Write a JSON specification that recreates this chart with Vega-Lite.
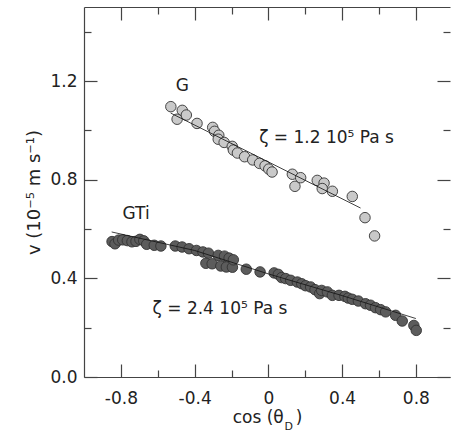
{
  "$schema": "https://vega.github.io/schema/vega-lite/v6.json",
  "width": 366,
  "height": 370,
  "autosize": "none",
  "padding": {"left": 84, "top": 7, "right": 1, "bottom": 55},
  "background": "white",
  "config": {"view": {"stroke": null}, "font": "DejaVu Sans"},
  "datasets": {
    "points": [
      {"series": "G", "x": -0.529, "y": 1.096},
      {"series": "G", "x": -0.495, "y": 1.045},
      {"series": "G", "x": -0.467, "y": 1.081},
      {"series": "G", "x": -0.445, "y": 1.062},
      {"series": "G", "x": -0.387, "y": 1.028},
      {"series": "G", "x": -0.302, "y": 1.012},
      {"series": "G", "x": -0.292, "y": 0.996},
      {"series": "G", "x": -0.269, "y": 0.98},
      {"series": "G", "x": -0.272, "y": 0.964},
      {"series": "G", "x": -0.24, "y": 0.951},
      {"series": "G", "x": -0.196, "y": 0.935},
      {"series": "G", "x": -0.19, "y": 0.92},
      {"series": "G", "x": -0.168, "y": 0.908},
      {"series": "G", "x": -0.129, "y": 0.893},
      {"series": "G", "x": -0.085, "y": 0.88},
      {"series": "G", "x": -0.048, "y": 0.866},
      {"series": "G", "x": -0.018, "y": 0.856},
      {"series": "G", "x": 0.002, "y": 0.843},
      {"series": "G", "x": 0.02, "y": 0.831},
      {"series": "G", "x": 0.13, "y": 0.822},
      {"series": "G", "x": 0.144, "y": 0.773},
      {"series": "G", "x": 0.175, "y": 0.808},
      {"series": "G", "x": 0.265, "y": 0.797},
      {"series": "G", "x": 0.302, "y": 0.786},
      {"series": "G", "x": 0.292, "y": 0.764},
      {"series": "G", "x": 0.347, "y": 0.753},
      {"series": "G", "x": 0.455, "y": 0.732},
      {"series": "G", "x": 0.524, "y": 0.646},
      {"series": "G", "x": 0.576, "y": 0.572},
      {"series": "GTi", "x": -0.848, "y": 0.549},
      {"series": "GTi", "x": -0.832, "y": 0.54},
      {"series": "GTi", "x": -0.812, "y": 0.555},
      {"series": "GTi", "x": -0.79, "y": 0.556},
      {"series": "GTi", "x": -0.765, "y": 0.553},
      {"series": "GTi", "x": -0.74, "y": 0.548},
      {"series": "GTi", "x": -0.718, "y": 0.55},
      {"series": "GTi", "x": -0.697, "y": 0.558},
      {"series": "GTi", "x": -0.676, "y": 0.552},
      {"series": "GTi", "x": -0.66, "y": 0.538},
      {"series": "GTi", "x": -0.619, "y": 0.534},
      {"series": "GTi", "x": -0.583, "y": 0.531},
      {"series": "GTi", "x": -0.505, "y": 0.531},
      {"series": "GTi", "x": -0.468, "y": 0.527},
      {"series": "GTi", "x": -0.43, "y": 0.52},
      {"series": "GTi", "x": -0.39, "y": 0.513},
      {"series": "GTi", "x": -0.355, "y": 0.507},
      {"series": "GTi", "x": -0.325, "y": 0.502},
      {"series": "GTi", "x": -0.339, "y": 0.461},
      {"series": "GTi", "x": -0.305, "y": 0.459},
      {"series": "GTi", "x": -0.272, "y": 0.493},
      {"series": "GTi", "x": -0.258, "y": 0.45},
      {"series": "GTi", "x": -0.238, "y": 0.49},
      {"series": "GTi", "x": -0.213, "y": 0.482},
      {"series": "GTi", "x": -0.228, "y": 0.446},
      {"series": "GTi", "x": -0.195, "y": 0.445},
      {"series": "GTi", "x": -0.19, "y": 0.475},
      {"series": "GTi", "x": -0.12, "y": 0.437},
      {"series": "GTi", "x": -0.045, "y": 0.426},
      {"series": "GTi", "x": 0.031, "y": 0.422},
      {"series": "GTi", "x": 0.054, "y": 0.416},
      {"series": "GTi", "x": 0.072, "y": 0.403},
      {"series": "GTi", "x": 0.094, "y": 0.399},
      {"series": "GTi", "x": 0.121, "y": 0.392},
      {"series": "GTi", "x": 0.157, "y": 0.385},
      {"series": "GTi", "x": 0.181, "y": 0.378},
      {"series": "GTi", "x": 0.202, "y": 0.37},
      {"series": "GTi", "x": 0.229, "y": 0.365},
      {"series": "GTi", "x": 0.253, "y": 0.354},
      {"series": "GTi", "x": 0.278, "y": 0.338},
      {"series": "GTi", "x": 0.289, "y": 0.351},
      {"series": "GTi", "x": 0.32, "y": 0.345},
      {"series": "GTi", "x": 0.347, "y": 0.331},
      {"series": "GTi", "x": 0.383, "y": 0.331},
      {"series": "GTi", "x": 0.415, "y": 0.327},
      {"series": "GTi", "x": 0.433, "y": 0.32},
      {"series": "GTi", "x": 0.455, "y": 0.315},
      {"series": "GTi", "x": 0.488, "y": 0.308},
      {"series": "GTi", "x": 0.527, "y": 0.297},
      {"series": "GTi", "x": 0.554, "y": 0.291},
      {"series": "GTi", "x": 0.581, "y": 0.281},
      {"series": "GTi", "x": 0.609, "y": 0.273},
      {"series": "GTi", "x": 0.636, "y": 0.264},
      {"series": "GTi", "x": 0.69, "y": 0.25},
      {"series": "GTi", "x": 0.726, "y": 0.227},
      {"series": "GTi", "x": 0.789, "y": 0.209},
      {"series": "GTi", "x": 0.802, "y": 0.189}
    ],
    "fits": [
      {"series": "G", "x": -0.53, "y": 1.07},
      {"series": "G", "x": 0.5, "y": 0.685},
      {"series": "GTi", "x": -0.85, "y": 0.588},
      {"series": "GTi", "x": -0.4, "y": 0.513},
      {"series": "GTi", "x": 0.0, "y": 0.418},
      {"series": "GTi", "x": 0.4, "y": 0.33},
      {"series": "GTi", "x": 0.8, "y": 0.237}
    ],
    "notes": [
      {"label": "G", "x": -0.502, "y": 1.159},
      {"label": "GTi", "x": -0.791, "y": 0.639},
      {"label": "ζ = 1.2 10⁵ Pa s", "x": -0.05, "y": 0.947},
      {"label": "ζ = 2.4 10⁵ Pa s", "x": -0.628, "y": 0.257}
    ],
    "subs": [
      {"label": "D", "x": 0.088, "y": -0.216}
    ]
  },
  "layer": [
    {
      "data": {"name": "points"},
      "mark": {"type": "circle", "size": 110, "opacity": 1, "stroke": "#333333", "strokeWidth": 0.9},
      "encoding": {
        "x": {
          "field": "x", "type": "quantitative",
          "scale": {"domain": [-1, 0.985], "nice": false, "zero": false},
          "axis": {
            "orient": "bottom",
            "values": [-0.8, -0.6, -0.4, -0.2, 0, 0.2, 0.4, 0.6, 0.8],
            "tickSize": {"condition": {"test": "round(datum.value*10) % 4 != 0", "value": -7}, "value": -13},
            "labelExpr": "round(datum.value*10) % 4 != 0 ? '' : datum.value == 0 ? '0' : (datum.value < 0 ? '-' : '') + format(abs(datum.value), '.1f')",
            "title": "cos (θ\u2002\u2009)",
            "grid": false,
            "domainColor": "#444444", "domainWidth": 1.2,
            "tickColor": "#444444", "tickWidth": 1.2,
            "labelFont": "DejaVu Sans", "labelFontSize": 17, "labelColor": "#222222",
            "labelPadding": 26, "labelFlush": false, "labelOverlap": false,
            "titleFont": "DejaVu Sans", "titleFontSize": 17, "titleFontWeight": "normal", "titleColor": "#222222",
            "titlePadding": -3
          }
        },
        "y": {
          "field": "y", "type": "quantitative",
          "scale": {"domain": [0, 1.5], "nice": false, "zero": false},
          "axis": {
            "orient": "left",
            "values": [0, 0.2, 0.4, 0.6, 0.8, 1.0, 1.2, 1.4],
            "tickSize": {"condition": {"test": "round(datum.value*10) % 4 != 0", "value": -7}, "value": -13},
            "labelExpr": "round(datum.value*10) % 4 != 0 ? '' : format(datum.value, '.1f')",
            "title": "v (10⁻⁵ m s⁻¹)",
            "grid": false,
            "domainColor": "#444444", "domainWidth": 1.2,
            "tickColor": "#444444", "tickWidth": 1.2,
            "labelFont": "DejaVu Sans", "labelFontSize": 17, "labelColor": "#222222",
            "labelPadding": 20, "labelFlush": false, "labelOverlap": false,
            "titleFont": "DejaVu Sans", "titleFontSize": 18, "titleFontWeight": "normal", "titleColor": "#222222",
            "titlePadding": 6
          }
        },
        "color": {
          "field": "series", "type": "nominal",
          "scale": {"domain": ["G", "GTi"], "range": ["#c9c9c9", "#5c5c5c"]},
          "legend": null
        }
      }
    },
    {
      "data": {"name": "fits"},
      "mark": {"type": "line", "color": "#111111", "strokeWidth": 0.8},
      "encoding": {
        "x": {
          "field": "x", "type": "quantitative",
          "scale": {"domain": [-1, 0.985], "nice": false, "zero": false},
          "axis": {
            "orient": "top",
            "values": [-0.8, -0.6, -0.4, -0.2, 0, 0.2, 0.4, 0.6, 0.8],
            "tickSize": {"condition": {"test": "round(datum.value*10) % 4 != 0", "value": -7}, "value": -13},
            "labels": false, "title": null, "grid": false,
            "domainColor": "#444444", "domainWidth": 1.2,
            "tickColor": "#444444", "tickWidth": 1.2
          }
        },
        "y": {
          "field": "y", "type": "quantitative",
          "scale": {"domain": [0, 1.5], "nice": false, "zero": false},
          "axis": {
            "orient": "right",
            "values": [0, 0.2, 0.4, 0.6, 0.8, 1.0, 1.2, 1.4],
            "tickSize": {"condition": {"test": "round(datum.value*10) % 4 != 0", "value": -7}, "value": -13},
            "labels": false, "title": null, "grid": false, "domain": false,
            "tickColor": "#444444", "tickWidth": 1.2
          }
        },
        "detail": {"field": "series", "type": "nominal"}
      }
    },
    {
      "data": {"name": "notes"},
      "mark": {"type": "text", "align": "left", "baseline": "alphabetic", "font": "DejaVu Sans", "fontSize": 17, "color": "#222222"},
      "encoding": {
        "x": {"field": "x", "type": "quantitative", "scale": {"domain": [-1, 0.985], "nice": false, "zero": false}, "axis": null},
        "y": {"field": "y", "type": "quantitative", "scale": {"domain": [0, 1.5], "nice": false, "zero": false}, "axis": null},
        "text": {"field": "label", "type": "nominal"}
      }
    },
    {
      "data": {"name": "subs"},
      "mark": {"type": "text", "align": "left", "baseline": "alphabetic", "font": "DejaVu Sans", "fontSize": 11, "color": "#222222"},
      "encoding": {
        "x": {"field": "x", "type": "quantitative", "scale": {"domain": [-1, 0.985], "nice": false, "zero": false}, "axis": null},
        "y": {"field": "y", "type": "quantitative", "scale": {"domain": [0, 1.5], "nice": false, "zero": false}, "axis": null},
        "text": {"field": "label", "type": "nominal"}
      }
    }
  ],
  "resolve": {"axis": {"x": "independent", "y": "independent"}}
}
